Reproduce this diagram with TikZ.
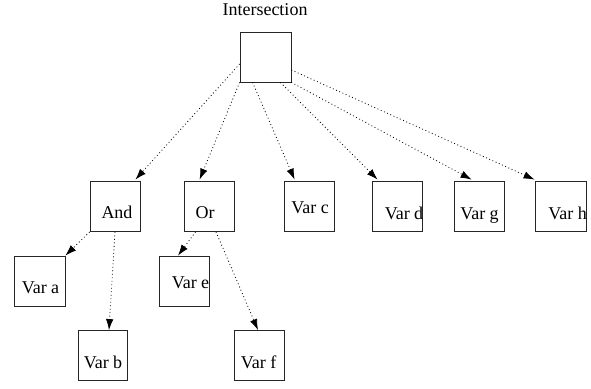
\documentclass[tikz,border=0pt]{standalone}
\usepackage{fontspec}
\setmainfont{Liberation Serif}
\usetikzlibrary{arrows.meta}
\begin{document}
\begin{tikzpicture}[x=1pt,y=-1pt,
  box/.style={draw=black!85, line width=0.8pt, minimum width=50pt, minimum height=50pt, inner sep=0pt},
  txt/.style={anchor=base, inner sep=0pt, font=\fontsize{18}{20}\selectfont},
  link/.style={line width=0.8pt, dash pattern=on 0.9pt off 2.6pt, -{Latex[length=11pt,width=7.5pt]}}]
\useasboundingbox (0,0) rectangle (591,388);
% boxes
\node[box, minimum width=51pt] (I) at (265.5,57) {};
\node[box] (And) at (115,206.5) {};
\node[box] (Or) at (209,206.5) {};
\node[box] (c) at (309,206) {};
\node[box] (d) at (397,206) {};
\node[box] (g) at (479,206) {};
\node[box, minimum width=51pt] (h) at (560.5,206) {};
\node[box, minimum width=51pt] (a) at (39.5,281) {};
\node[box] (e) at (184,281) {};
\node[box, minimum width=49pt] (b) at (102.5,355.5) {};
\node[box] (f) at (259,355.5) {};
% texts
\node[txt] (tI) at (265,15) {Intersection};
\node[txt] (tAnd) at (117,218.3) {And};
\node[txt] (tOr) at (205,218) {Or};
\node[txt] (ta) at (40.5,293) {Var a};
\node[txt] (te) at (190.5,288) {Var e};
\node[txt] (tb) at (103,368) {Var b};
\node[txt] (tf) at (258.7,368) {Var f};
\node[txt] (tc) at (310,213) {Var c};
\node[txt] (td) at (404,219) {Var d};
\node[txt] (tg) at (479.5,219) {Var g};
\node[txt] (th) at (567.7,219) {Var h};
% connectors
\draw[link] ([yshift=-7pt]I.west) -- ([xshift=-5pt,yshift=1.5pt]And.north east);
\draw[link] (I.south west) -- ([xshift=16pt,yshift=1.5pt]Or.north west);
\draw[link] ([xshift=13pt]I.south west) -- ([xshift=11pt,yshift=1pt]c.north west);
\draw[link] ([xshift=-11pt]I.south east) -- ([xshift=6pt,yshift=1pt]d.north west);
\draw[link] (I.south east) -- ([xshift=18pt,yshift=1pt]g.north west);
\draw[link] ([yshift=-13pt]I.east) -- ([yshift=1pt]h.north west);
\draw[link] (And.south west) -- (a.north east);
\draw[link] (And.south) -- ([xshift=6.5pt]b.north);
\draw[link] ([xshift=12pt]Or.south west) -- ([xshift=-6pt]e.north);
\draw[link] ([xshift=7pt]Or.south) -- ([xshift=-1pt]f.north);
\end{tikzpicture}
\end{document}
